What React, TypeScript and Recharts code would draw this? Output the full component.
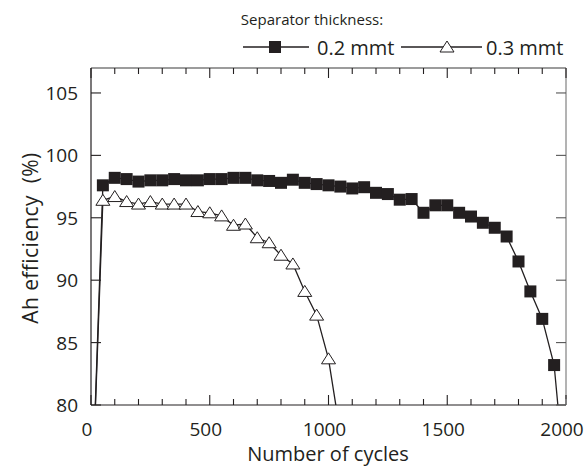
import { Line, LineChart, XAxis, YAxis } from 'recharts'

const INK = '#231f20'
const FONT = '"Open Sans", "Noto Sans", sans-serif'

// 0.2 mmt separator (filled squares)
const cycles02 = [0, 50, 100, 150, 200, 250, 300, 350, 400, 450, 500, 550, 600, 650, 700, 750, 800, 850, 900, 950, 1000, 1050, 1100, 1150, 1200, 1250, 1300, 1350, 1400, 1450, 1500, 1550, 1600, 1650, 1700, 1750, 1800, 1850, 1900, 1950, 2000]
const eff02 = [70, 97.6, 98.2, 98.1, 97.9, 98.0, 98.0, 98.1, 98.0, 98.0, 98.1, 98.1, 98.2, 98.2, 98.0, 97.95, 97.8, 98.05, 97.8, 97.7, 97.6, 97.5, 97.35, 97.45, 97.0, 96.9, 96.45, 96.5, 95.4, 96.0, 96.0, 95.4, 95.1, 94.6, 94.2, 93.5, 91.5, 89.1, 86.9, 83.2, 73]

// 0.3 mmt separator (open triangles)
const cycles03 = [0, 50, 100, 150, 200, 250, 300, 350, 400, 450, 500, 550, 600, 650, 700, 750, 800, 850, 900, 950, 1000, 1050]
const eff03 = [70, 96.4, 96.7, 96.3, 96.1, 96.3, 96.1, 96.1, 96.1, 95.5, 95.4, 95.15, 94.4, 94.5, 93.4, 93.0, 92.0, 91.3, 89.1, 87.2, 83.7, 77.7]

const xTicks = [0, 100, 200, 300, 400, 500, 600, 700, 800, 900, 1000, 1100, 1200, 1300, 1400, 1500, 1600, 1700, 1800, 1900, 2000]
const yTicks = [80, 85, 90, 95, 100, 105]

const data02 = cycles02.map((c, i) => ({ c, v: eff02[i] }))
const data03 = cycles03.map((c, i) => ({ c, v: eff03[i] }))

const Square = ({ cx, cy }: any) => {
  if (cx == null || cy == null) return null
  return <rect x={cx - 6} y={cy - 6} width={12} height={12} fill={INK} />
}

const Triangle = ({ cx, cy }: any) => {
  if (cx == null || cy == null) return null
  return <path d={`M${cx},${cy - 6} L${cx + 7},${cy + 5} L${cx - 7},${cy + 5} Z`} fill="#fff" stroke={INK} strokeWidth={1} />
}

// tick lines point inward (negative tickSize); labels are pushed back out from the axis
const MINOR = 6
const MAJOR = 10
const TOP_AXIS_H = 20
const PLOT_TOP = 48 + TOP_AXIS_H

const BottomTick = ({ x, y, payload }: any) => {
  const axisY = y + MINOR
  const major = payload.value % 500 === 0
  const len = major ? MAJOR : MINOR
  return (
    <g>
      {/* matching tick on the top frame edge */}
      <line x1={x} x2={x} y1={PLOT_TOP} y2={PLOT_TOP + len} stroke={INK} strokeWidth={1.1} />
      {major && <line x1={x} x2={x} y1={axisY - MINOR} y2={axisY - MAJOR} stroke={INK} strokeWidth={1.1} />}
      {major && (
        <text x={x - 4} y={axisY + 31} textAnchor="middle" fontSize={19} fontFamily={FONT} fill={INK}>
          {payload.value}
        </text>
      )}
    </g>
  )
}

const LeftTick = ({ x, y, payload }: any) => (
  <text x={x - MAJOR - 13} y={y + 7} textAnchor="end" fontSize={19} fontFamily={FONT} fill={INK}>
    {payload.value}
  </text>
)

export default function App() {
  return (
    <div style={{ position: 'absolute', left: 0, top: 0, width: 586, height: 468, background: '#fff', fontFamily: FONT, color: INK }}>
      <LineChart width={586} height={468} margin={{ top: 48, right: 19, bottom: 0, left: 0 }}>
        <XAxis
          xAxisId="b"
          dataKey="c"
          type="number"
          domain={[0, 2000]}
          ticks={xTicks}
          interval={0}
          height={63}
          tickSize={-MINOR}
          tickMargin={0}
          tickLine={{ stroke: INK, strokeWidth: 1.1 }}
          axisLine={{ stroke: INK, strokeWidth: 1.2 }}
          tick={(p: any) => <BottomTick {...p} />}
          allowDataOverflow
          label={{
            content: () => (
              <text x={328} y={461} textAnchor="middle" fontSize={20} fontFamily={FONT} fill={INK}>
                Number of cycles
              </text>
            ),
          }}
        />
        <XAxis
          xAxisId="t"
          orientation="top"
          type="number"
          domain={[0, 2000]}
          ticks={xTicks}
          interval={0}
          height={TOP_AXIS_H}
          tickLine={false}
          axisLine={{ stroke: '#3a3a3a', strokeWidth: 1.2 }}
          tick={() => <g />}
          allowDataOverflow
        />
        <YAxis
          yAxisId="l"
          type="number"
          domain={[80, 107]}
          ticks={yTicks}
          interval={0}
          width={91}
          tickSize={-MAJOR}
          tickMargin={0}
          tickLine={{ stroke: INK, strokeWidth: 1.1 }}
          axisLine={{ stroke: INK, strokeWidth: 1.2 }}
          tick={(p: any) => <LeftTick {...p} />}
          allowDataOverflow
          label={{
            content: () => (
              <text x={38} y={238} transform="rotate(-90 38 238)" textAnchor="middle" fontSize={21} letterSpacing={0.4} fontFamily={FONT} fill={INK} style={{ whiteSpace: 'pre' }}>
                {'Ah efficiency  (%)'}
              </text>
            ),
          }}
        />
        <YAxis
          yAxisId="r"
          orientation="right"
          type="number"
          domain={[80, 107]}
          ticks={yTicks}
          interval={0}
          width={1}
          tickSize={-MAJOR}
          tickMargin={0}
          tickLine={{ stroke: '#555', strokeWidth: 1.1 }}
          axisLine={{ stroke: '#808080', strokeWidth: 1.2 }}
          tick={() => <g />}
          allowDataOverflow
        />
        <Line
          xAxisId="b"
          yAxisId="l"
          data={data02}
          dataKey="v"
          stroke={INK}
          strokeWidth={1.3}
          dot={(p: any) => <Square key={`s${p.index}`} {...p} />}
          activeDot={false}
          isAnimationActive={false}
        />
        <Line
          xAxisId="b"
          yAxisId="l"
          data={data03}
          dataKey="v"
          stroke={INK}
          strokeWidth={1.3}
          dot={(p: any) => <Triangle key={`t${p.index}`} {...p} />}
          activeDot={false}
          isAnimationActive={false}
        />
      </LineChart>

      <div style={{ position: 'absolute', left: 0, top: 9, width: 624, textAlign: 'center', fontSize: 15 }}>
        Separator thickness:
      </div>
      <div style={{ position: 'absolute', left: 0, top: 33, height: 28, display: 'flex', alignItems: 'center', fontSize: 20 }}>
        <svg width={66} height={20} style={{ position: 'absolute', left: 243 }}>
          <line x1={0} x2={66} y1={10} y2={10} stroke={INK} strokeWidth={1.3} />
          <rect x={26} y={4} width={12} height={12} fill={INK} />
        </svg>
        <span style={{ position: 'absolute', left: 317, whiteSpace: 'nowrap' }}>0.2 mmt</span>
        <svg width={81} height={20} style={{ position: 'absolute', left: 401 }}>
          <line x1={0} x2={81} y1={10} y2={10} stroke={INK} strokeWidth={1.3} />
          <path d="M46,4 L53,15 L39,15 Z" fill="#fff" stroke={INK} strokeWidth={1} />
        </svg>
        <span style={{ position: 'absolute', left: 486, whiteSpace: 'nowrap' }}>0.3 mmt</span>
      </div>
    </div>
  )
}
